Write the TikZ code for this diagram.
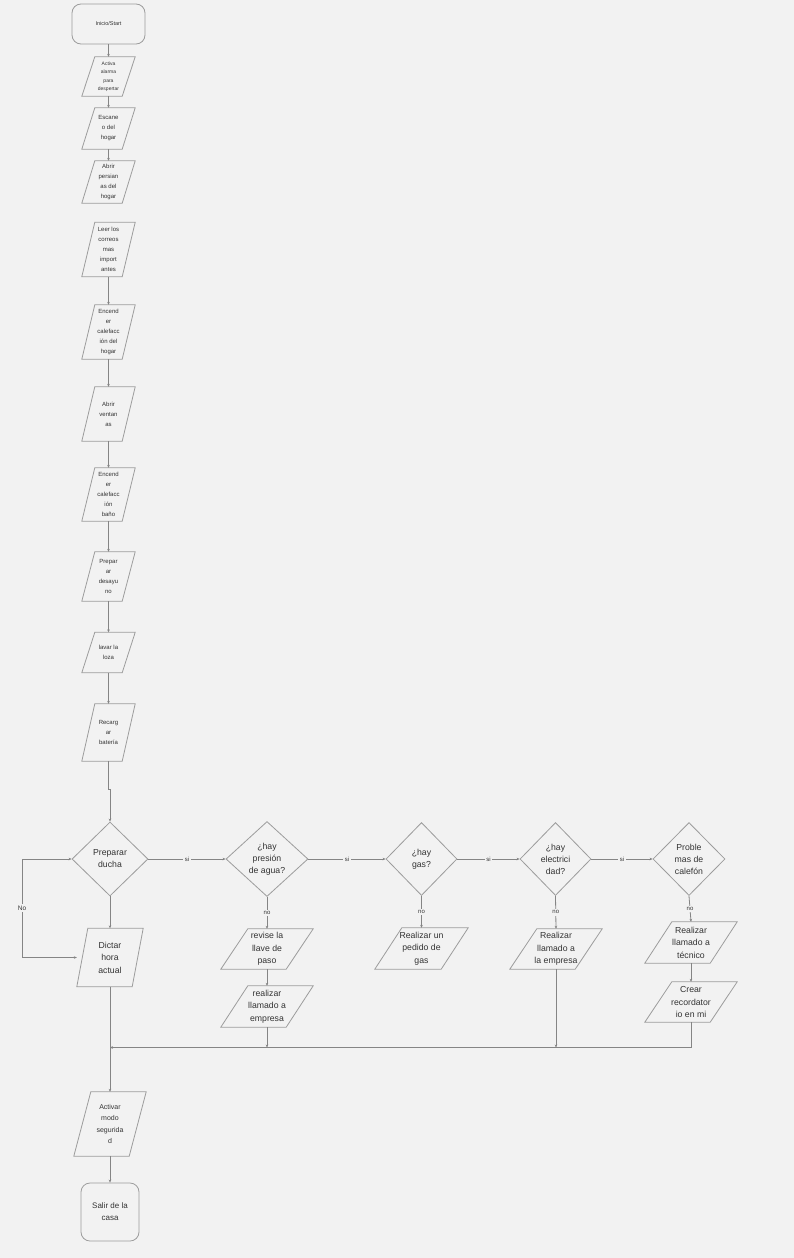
\documentclass[tikz,border=0pt]{standalone}
\usepackage{fontspec}
\setmainfont{Liberation Sans}
\usetikzlibrary{shapes.geometric,arrows.meta,calc}
\definecolor{bg}{HTML}{F2F2F2}
\definecolor{ln}{HTML}{858585}
\definecolor{sh}{HTML}{9C9C9C}
\definecolor{tx}{HTML}{333333}
\tikzset{
  txt/.style={draw=none, inner sep=0pt, align=center, text=tx},
  shp/.style={draw=sh, line width=0.8pt},
  con/.style={draw=ln, line width=0.8pt, -{Stealth[length=3pt,width=2.6pt]}},
  conboth/.style={draw=ln, line width=0.8pt, {Stealth[length=3pt,width=2.6pt]}-{Stealth[length=3pt,width=2.6pt]}},
  plain/.style={draw=ln, line width=0.8pt},
  lbl/.style={fill=bg, inner sep=1.5pt, text=tx, font=\fontsize{6}{6}\selectfont},
  dia/.style={diamond, aspect=1, draw=sh, line width=0.8pt, inner sep=0pt, align=center, text=tx, font=\fontsize{8.7}{12}\selectfont},
  term/.style={rectangle, rounded corners=9pt, draw=sh, line width=0.8pt, inner sep=0pt, align=center, text=tx},
  fa/.style={font=\fontsize{5}{8.5}\selectfont},
  fb/.style={font=\fontsize{6}{10}\selectfont},
  fc/.style={font=\fontsize{8.7}{12.5}\selectfont},
  fd/.style={font=\fontsize{7}{11.5}\selectfont},
}
\newcommand\pgram[8]{%
  \node[txt,#7, minimum width=#4pt, minimum height=#5pt] (#1) at (#2,#3) {#8};
  \draw[shp] (#1.south west) -- ([xshift=#6pt]#1.north west) -- (#1.north east) -- ([xshift=-#6pt]#1.south east) -- cycle;}
\begin{document}
\begin{tikzpicture}[x=1pt,y=-1pt]
\fill[bg] (0,0) rectangle (794,1258);
\useasboundingbox (0,0) rectangle (794,1258);

% main column
\node[term, minimum width=73pt, minimum height=40pt, font=\fontsize{5.5}{6}\selectfont] (start) at (108.5,24) {Inicio/Start};
\pgram{p1}{108.5}{76.5}{53}{39}{13}{fa}{Activa\\alarma\\para\\despertar}
\pgram{p2}{108.5}{128.5}{53}{41}{13}{fb}{Escane\\o del\\hogar}
\pgram{p3}{108.5}{182}{53}{42}{13}{fb}{Abrir\\persian\\as del\\hogar}
\pgram{p4}{108.5}{249.5}{53}{54}{13}{fb}{Leer los\\correos\\mas\\import\\antes}
\pgram{p5}{108.5}{332}{53}{54}{13}{fb}{Encend\\er\\calefacc\\ión del\\hogar}
\pgram{p6}{108.5}{414}{53}{54}{13}{fb}{Abrir\\ventan\\as}
\pgram{p7}{108.5}{494.5}{53}{53}{13}{fb}{Encend\\er\\calefacc\\ión\\baño}
\pgram{p8}{108.5}{576.5}{53}{49}{13}{fb}{Prepar\\ar\\desayu\\no}
\pgram{p9}{108.5}{652.5}{53}{40}{13}{fb}{lavar la\\loza}
\pgram{p10}{108.5}{732.5}{53}{57}{13}{fb}{Recarg\\ar\\batería}

\draw[con] (start.south) -- (p1.north);
\draw[con] (p1.south) -- (p2.north);
\draw[con] (p2.south) -- (p3.north);
\draw[con] (p4.south) -- (p5.north);
\draw[con] (p5.south) -- (p6.north);
\draw[con] (p6.south) -- (p7.north);
\draw[con] (p7.south) -- (p8.north);
\draw[con] (p8.south) -- (p9.north);
\draw[con] (p9.south) -- (p10.north);

% decisions row
\node[dia, minimum width=76pt, minimum height=74pt] (d1) at (110,859) {Preparar\\ducha};
\node[dia, minimum width=82pt, minimum height=75pt] (d2) at (267,859) {¿hay\\presión\\de agua?};
\node[dia, minimum width=71pt, minimum height=73pt] (d3) at (421.5,859) {¿hay\\gas?};
\node[dia, minimum width=71pt, minimum height=73pt] (d4) at (555.5,859) {¿hay\\electrici\\dad?};
\node[dia, minimum width=72pt, minimum height=73pt] (d5) at (689,859) {Proble\\mas de\\calefón};

\coordinate (j1) at (108.5,789);
\draw[con] (p10.south) -- (j1) -- (d1.north |- j1) -- (d1.north);

\draw[con] (d1.east) -- node[lbl]{si} (d2.west);
\draw[con] (d2.east) -- node[lbl]{si} (d3.west);
\draw[con] (d3.east) -- node[lbl]{si} (d4.west);
\draw[con] (d4.east) -- node[lbl]{si} (d5.west);

\pgram{dic}{110}{957.5}{66}{58}{11}{fc}{Dictar\\hora\\actual}
\draw[con] (d1.south) -- (dic.north);
\coordinate (lx) at (22,908);
\draw[conboth] (d1.west) -- (d1.west -| lx) -- node[lbl, font=\fontsize{6.5}{7}\selectfont]{No} (dic.west -| lx) -- (dic.west);

\pgram{rv}{267}{949}{92}{40}{27}{fc}{revise la\\llave de\\paso}
\pgram{re}{267}{1006.5}{92}{41}{27}{fc}{realizar\\llamado a\\empresa}
\pgram{rg}{421.5}{948.5}{93}{41}{27}{fc}{Realizar un\\pedido de\\gas}
\pgram{rl}{556}{949}{92}{40}{27}{fc}{Realizar\\llamado a\\la empresa}
\pgram{rt}{691}{942.5}{92}{41}{27}{fc}{Realizar\\llamado a\\técnico}
\pgram{cr}{691}{1002}{92}{40}{27}{fc}{Crear\\recordator\\io en mi}

\draw[con] (d2.south) -- node[lbl]{no} (rv.north);
\draw[con] (rv.south) -- (re.north);
\draw[con] (d3.south) -- node[lbl]{no} (rg.north);
\draw[con] (d4.south) -- node[lbl]{no} (rl.north);
\draw[con] (d5.south) -- node[lbl]{no} (rt.north);
\draw[con] (rt.south) -- (cr.north);

% merge
\coordinate (jn) at (110,1047.5);
\draw[con] (cr.south) |- (jn);
\draw[con] (re.south) -- (re.south |- jn);
\draw[con] (rl.south) -- (rl.south |- jn);

\pgram{act}{110}{1124}{72}{64}{17}{fd}{Activar\\modo\\segurida\\d}
\draw[con] (dic.south) -- (act.north);

\node[term, minimum width=58pt, minimum height=58pt, font=\fontsize{8}{12}\selectfont] (out) at (110,1212) {Salir de la\\casa};
\draw[con] (act.south) -- (out.north);
\end{tikzpicture}
\end{document}
